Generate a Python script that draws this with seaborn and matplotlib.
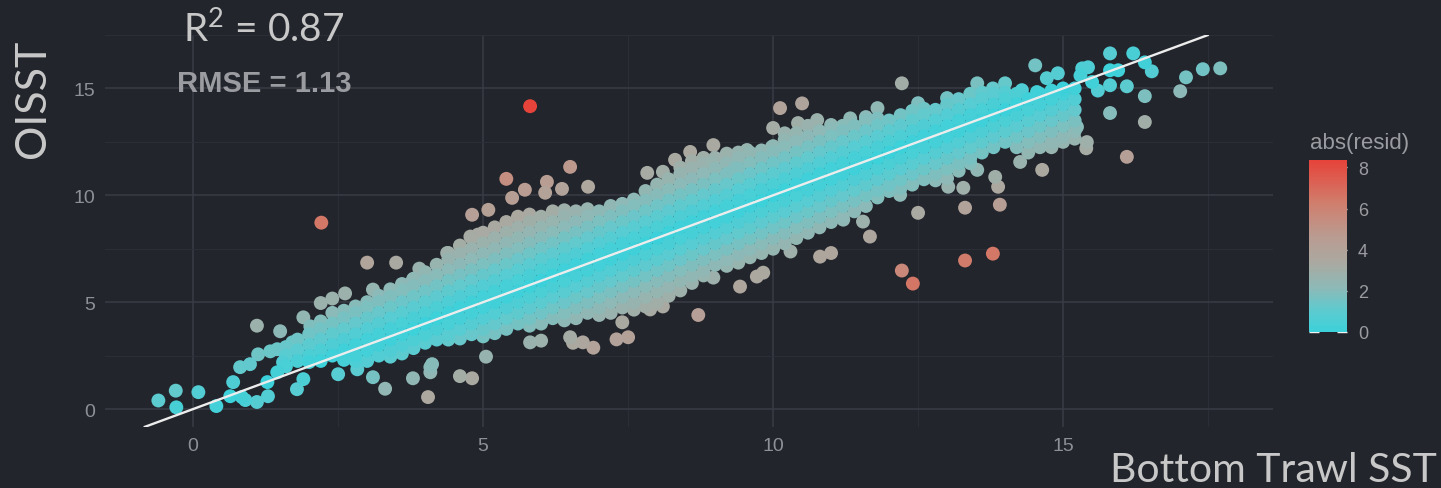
import pandas as pd
import matplotlib
matplotlib.use("Agg")
import matplotlib.pyplot as plt
import matplotlib.colorbar as mcolorbar
from matplotlib.colors import LinearSegmentedColormap, Normalize
import seaborn as sns

# ---------------------------------------------------------------------------
# Data: bottom trawl SST (x) against OISST (y), degrees C
# ---------------------------------------------------------------------------

# sparse observations around the edge of the cloud
edge_bt = [
    -0.60, -0.30, -0.29, 0.09, 0.40, 0.64, 0.69, 0.84, 0.90, 1.10,
    0.81, 0.98, 1.10, 1.12, 1.28, 1.33, 1.29, 1.45, 1.45, 1.50,
    1.55, 1.71, 1.79, 1.90, 1.90, 2.02, 2.20, 2.40, 2.62, 2.21,
    3.00, 3.50, 3.90, 2.50, 2.83, 3.10, 3.31, 3.79, 4.05, 4.09,
    4.09, 4.12, 3.10, 3.62, 3.79, 4.38, 4.60, 4.81, 5.05, 4.78,
    4.91, 4.81, 5.09, 5.50, 5.40, 5.72, 6.10, 6.07, 6.36, 6.50,
    6.81, 5.81, 5.81, 6.00, 6.50, 6.55, 6.72, 6.90, 7.30, 7.50,
    7.40, 7.88, 8.10, 8.71, 7.83, 8.10, 8.31, 8.57, 8.97, 8.95,
    9.34, 9.55, 9.98, 10.00, 10.12, 10.20, 10.50, 10.43, 10.76, 11.00,
    11.33, 11.60, 11.80, 12.22, 12.50, 12.41, 13.00, 13.52, 13.62, 13.79,
    14.00, 8.97, 9.43, 9.72, 9.83, 10.30, 10.81, 11.00, 11.21, 11.55,
    11.67, 12.19, 12.50, 13.02, 13.28, 13.31, 13.52, 13.83, 13.88, 13.91,
    12.22, 12.41, 13.31, 13.79, 14.26, 14.64, 14.83, 15.24, 15.41, 15.40,
    15.81, 16.21, 16.41, 16.53, 14.52, 14.91, 14.72, 15.33, 15.43, 15.81,
    15.95, 15.81, 16.10, 16.41, 15.81, 16.41, 16.10, 17.02, 17.12, 17.41,
    17.71, 14.29, 14.55, 15.50, 15.60, 15.30,
]
edge_oi = [
    0.40, 0.86, 0.08, 0.79, 0.14, 0.60, 1.26, 0.56, 0.42, 0.33,
    1.96, 2.10, 3.90, 2.56, 1.26, 2.70, 0.60, 2.80, 1.72, 3.64,
    2.19, 3.12, 0.93, 1.40, 4.29, 3.87, 4.96, 5.17, 5.41, 8.72,
    6.85, 6.85, 6.57, 1.63, 1.86, 1.49, 0.95, 1.44, 0.56, 1.96,
    1.72, 2.10, 5.59, 5.59, 6.06, 7.30, 1.54, 1.44, 2.45, 8.07,
    8.16, 9.09, 9.32, 9.88, 10.77, 10.26, 10.63, 10.12, 10.30, 11.33,
    10.40, 14.17, 3.12, 3.20, 3.36, 3.10, 3.12, 2.87, 3.26, 3.36,
    4.06, 4.66, 4.80, 4.40, 11.05, 11.10, 11.66, 12.03, 12.35, 11.50,
    11.28, 12.12, 12.26, 13.15, 14.08, 12.90, 14.30, 13.38, 13.52, 13.29,
    13.60, 13.66, 14.08, 15.24, 14.31, 13.85, 14.55, 15.24, 14.78, 15.00,
    15.24, 6.15, 5.73, 6.20, 6.38, 7.37, 7.13, 7.30, 8.86, 8.77,
    8.07, 10.02, 9.18, 10.40, 10.35, 9.42, 11.19, 10.86, 10.40, 9.56,
    6.48, 5.87, 6.95, 7.27, 11.56, 11.19, 12.45, 13.20, 12.49, 12.20,
    16.64, 16.64, 16.22, 15.80, 16.08, 15.71, 15.48, 15.94, 15.99, 15.85,
    15.85, 15.15, 15.10, 14.64, 13.85, 13.43, 11.80, 14.87, 15.52, 15.90,
    15.94, 14.92, 14.83, 15.30, 14.90, 15.60,
]

# dense body of the cloud: OISST readings grouped by trawl-temperature column
core_bt = [
    1.6, 1.8, 2.0, 2.2, 2.4, 2.6, 2.8, 3.0, 3.2, 3.4, 3.6, 3.8, 4.0, 4.2,
    4.4, 4.6, 4.8, 5.0, 5.2, 5.4, 5.6, 5.8, 6.0, 6.2, 6.4, 6.6, 6.8, 7.0,
    7.2, 7.4, 7.6, 7.8, 8.0, 8.2, 8.4, 8.6, 8.8, 9.0, 9.2, 9.4, 9.6, 9.8,
    10.0, 10.2, 10.4, 10.6, 10.8, 11.0, 11.2, 11.4, 11.6, 11.8, 12.0, 12.2,
    12.4, 12.6, 12.8, 13.0, 13.2, 13.4, 13.6, 13.8, 14.0, 14.2, 14.4, 14.6,
    14.8, 15.0, 15.2,
]
core_oi = [
    [2.0, 2.5, 2.9],
    [2.25, 2.75, 3.25],
    [2.2, 2.5, 3.0, 3.5],
    [2.25, 2.75, 3.25, 3.75, 4.1],
    [2.5, 3.0, 3.5, 4.0, 4.5],
    [2.3, 2.75, 3.25, 3.75, 4.25, 4.6],
    [2.25, 2.5, 3.0, 3.5, 4.0, 4.5, 4.8],
    [2.25, 2.75, 3.25, 3.75, 4.25, 4.75, 5.0],
    [2.5, 3.0, 3.5, 4.0, 4.5, 5.0, 5.3],
    [2.45, 2.75, 3.25, 3.75, 4.25, 4.75, 5.25, 5.6],
    [2.6, 3.0, 3.5, 4.0, 4.5, 5.0, 5.5, 5.85],
    [2.85, 3.25, 3.75, 4.25, 4.75, 5.25, 5.75, 6.1],
    [3.1, 3.5, 4.0, 4.5, 5.0, 5.5, 6.0, 6.4],
    [3.25, 3.75, 4.25, 4.75, 5.25, 5.75, 6.25, 6.75],
    [3.25, 3.5, 4.0, 4.5, 5.0, 5.5, 6.0, 6.5, 7.0, 7.3],
    [3.3, 3.75, 4.25, 4.75, 5.25, 5.75, 6.25, 6.75, 7.25, 7.65],
    [3.5, 4.0, 4.5, 5.0, 5.5, 6.0, 6.5, 7.0, 7.5, 8.0],
    [3.4, 3.75, 4.25, 4.75, 5.25, 5.75, 6.25, 6.75, 7.25, 7.75, 8.25],
    [3.55, 4.0, 4.5, 5.0, 5.5, 6.0, 6.5, 7.0, 7.5, 8.0, 8.5],
    [3.75, 4.25, 4.75, 5.25, 5.75, 6.25, 6.75, 7.25, 7.75, 8.25, 8.75],
    [4.0, 4.5, 5.0, 5.5, 6.0, 6.5, 7.0, 7.5, 8.0, 8.5, 9.0],
    [3.9, 4.25, 4.75, 5.25, 5.75, 6.25, 6.75, 7.25, 7.75, 8.25, 8.75, 9.1],
    [4.0, 4.5, 5.0, 5.5, 6.0, 6.5, 7.0, 7.5, 8.0, 8.5, 9.0],
    [4.25, 4.75, 5.25, 5.75, 6.25, 6.75, 7.25, 7.75, 8.25, 8.75, 9.25],
    [4.15, 4.5, 5.0, 5.5, 6.0, 6.5, 7.0, 7.5, 8.0, 8.5, 9.0, 9.3],
    [4.25, 4.75, 5.25, 5.75, 6.25, 6.75, 7.25, 7.75, 8.25, 8.75, 9.25],
    [4.5, 5.0, 5.5, 6.0, 6.5, 7.0, 7.5, 8.0, 8.5, 9.0, 9.35],
    [4.4, 4.75, 5.25, 5.75, 6.25, 6.75, 7.25, 7.75, 8.25, 8.75, 9.25],
    [4.5, 5.0, 5.5, 6.0, 6.5, 7.0, 7.5, 8.0, 8.5, 9.0, 9.5],
    [4.75, 5.25, 5.75, 6.25, 6.75, 7.25, 7.75, 8.25, 8.75, 9.25, 9.6],
    [4.65, 5.0, 5.5, 6.0, 6.5, 7.0, 7.5, 8.0, 8.5, 9.0, 9.5, 9.8],
    [4.8, 5.25, 5.75, 6.25, 6.75, 7.25, 7.75, 8.25, 8.75, 9.25, 9.75, 10.2],
    [5.0, 5.5, 6.0, 6.5, 7.0, 7.5, 8.0, 8.5, 9.0, 9.5, 10.0, 10.5],
    [5.3, 5.75, 6.25, 6.75, 7.25, 7.75, 8.25, 8.75, 9.25, 9.75, 10.25, 10.75],
    [5.55, 6.0, 6.5, 7.0, 7.5, 8.0, 8.5, 9.0, 9.5, 10.0, 10.5, 11.0, 11.3],
    [5.9, 6.25, 6.75, 7.25, 7.75, 8.25, 8.75, 9.25, 9.75, 10.25, 10.75, 11.25, 11.6],
    [6.25, 6.5, 7.0, 7.5, 8.0, 8.5, 9.0, 9.5, 10.0, 10.5, 11.0, 11.5, 11.75],
    [6.75, 7.25, 7.75, 8.25, 8.75, 9.25, 9.75, 10.25, 10.75, 11.25, 11.75],
    [6.7, 7.0, 7.5, 8.0, 8.5, 9.0, 9.5, 10.0, 10.5, 11.0, 11.5, 11.95],
    [6.85, 7.25, 7.75, 8.25, 8.75, 9.25, 9.75, 10.25, 10.75, 11.25, 11.75, 12.0],
    [7.1, 7.5, 8.0, 8.5, 9.0, 9.5, 10.0, 10.5, 11.0, 11.5, 12.0],
    [7.3, 7.75, 8.25, 8.75, 9.25, 9.75, 10.25, 10.75, 11.25, 11.75, 12.1],
    [7.5, 8.0, 8.5, 9.0, 9.5, 10.0, 10.5, 11.0, 11.5, 12.0, 12.3],
    [7.75, 8.25, 8.75, 9.25, 9.75, 10.25, 10.75, 11.25, 11.75, 12.25, 12.6],
    [8.0, 8.5, 9.0, 9.5, 10.0, 10.5, 11.0, 11.5, 12.0, 12.5, 12.9],
    [8.25, 8.75, 9.25, 9.75, 10.25, 10.75, 11.25, 11.75, 12.25, 12.75, 13.25],
    [8.5, 9.0, 9.5, 10.0, 10.5, 11.0, 11.5, 12.0, 12.5, 13.0],
    [8.75, 9.25, 9.75, 10.25, 10.75, 11.25, 11.75, 12.25, 12.75, 13.1],
    [9.0, 9.5, 10.0, 10.5, 11.0, 11.5, 12.0, 12.5, 13.0, 13.25],
    [9.25, 9.75, 10.25, 10.75, 11.25, 11.75, 12.25, 12.75, 13.25],
    [9.5, 10.0, 10.5, 11.0, 11.5, 12.0, 12.5, 13.0, 13.5],
    [9.9, 10.25, 10.75, 11.25, 11.75, 12.25, 12.75, 13.25, 13.6],
    [10.2, 10.5, 11.0, 11.5, 12.0, 12.5, 13.0, 13.5],
    [10.35, 10.75, 11.25, 11.75, 12.25, 12.75, 13.25, 13.75],
    [10.5, 11.0, 11.5, 12.0, 12.5, 13.0, 13.5, 13.95],
    [10.75, 11.25, 11.75, 12.25, 12.75, 13.25, 13.75, 14.05],
    [10.7, 11.0, 11.5, 12.0, 12.5, 13.0, 13.5, 14.0],
    [10.8, 11.25, 11.75, 12.25, 12.75, 13.25, 13.75, 14.25],
    [11.15, 11.5, 12.0, 12.5, 13.0, 13.5, 14.0, 14.5],
    [11.5, 11.75, 12.25, 12.75, 13.25, 13.75, 14.25, 14.75],
    [12.0, 12.5, 13.0, 13.5, 14.0, 14.5, 14.8],
    [12.25, 12.75, 13.25, 13.75, 14.25, 14.75],
    [12.5, 13.0, 13.5, 14.0, 14.5, 14.8],
    [12.25, 12.75, 13.25, 13.75, 14.25, 14.75],
    [12.0, 12.5, 13.0, 13.5, 14.0, 14.5],
    [12.25, 12.75, 13.25, 13.75, 14.25, 14.75],
    [12.25, 12.5, 13.0, 13.5, 14.0, 14.5, 14.9],
    [12.5, 12.75, 13.25, 13.75, 14.25, 14.75, 15.0],
    [12.65, 13.0, 13.5, 14.0, 14.5, 15.0],
]

r2_text = "0.87"
rmse_text = "1.13"
axis_ticks = [0, 5, 10, 15]
minor_ticks = [2.5, 7.5, 12.5, 17.5]
resid_ticks = [0, 2, 4, 6, 8]

# ---------------------------------------------------------------------------
# Assemble the table and residuals from the 1:1 line
# ---------------------------------------------------------------------------
bt = list(edge_bt)
oi = list(edge_oi)
for x, column in zip(core_bt, core_oi):
    bt.extend([x] * len(column))
    oi.extend(column)

df = pd.DataFrame({"bt": bt, "oi": oi})
df["abs_resid"] = (df["oi"] - df["bt"]).abs()
# large residuals first so the well-matched points sit on top
df = df.sort_values("abs_resid", ascending=False).reset_index(drop=True)
vmax = df["abs_resid"].max()

# ---------------------------------------------------------------------------
# Styling
# ---------------------------------------------------------------------------
BG = "#22252c"
GRID_MAJOR = "#393c44"
GRID_MINOR = "#2c2f37"
TICK_GREY = "#8d9096"
LABEL_GREY = "#c8c8c8"

sns.set_theme(style="dark")
plt.rcParams["font.family"] = ["Liberation Sans", "DejaVu Sans"]
plt.rcParams["mathtext.fontset"] = "custom"
plt.rcParams["mathtext.rm"] = "Lato"

resid_cmap = LinearSegmentedColormap.from_list(
    "resid",
    [(0.00, "#3cd1da"), (0.12, "#5ccbd0"), (0.25, "#8bbab8"),
     (0.40, "#aaa9a1"), (0.55, "#b99c92"), (0.75, "#d07e6d"),
     (1.00, "#e6433a")],
)

W, H = 1441, 489
fig = plt.figure(figsize=(W / 100, H / 100), dpi=100, facecolor=BG)
ax = fig.add_axes([105 / W, 1 - 428 / H, (1273 - 105) / W, (428 - 36) / H])
ax.set_facecolor(BG)

sns.scatterplot(
    data=df, x="bt", y="oi", hue="abs_resid",
    palette=resid_cmap, hue_norm=(0, vmax),
    s=100, linewidth=0, alpha=1.0, legend=False, ax=ax, zorder=3,
)

# 1:1 reference line
ax.axline((0, 0), slope=1, color="#ededed", lw=1.7, zorder=4)

ax.set_xlim(-1.52, 18.62)
ax.set_ylim(-0.84, 17.44)
ax.set_xticks(axis_ticks)
ax.set_yticks(axis_ticks)
ax.set_xticks(minor_ticks, minor=True)
ax.set_yticks(minor_ticks, minor=True)
ax.grid(which="major", color=GRID_MAJOR, lw=1.1)
ax.grid(which="minor", color=GRID_MINOR, lw=0.7)
ax.set_axisbelow(True)
for sp in ax.spines.values():
    sp.set_visible(False)
ax.tick_params(axis="both", which="both", length=0, pad=7,
               labelsize=14, labelcolor=TICK_GREY)
ax.set_xlabel("")
ax.set_ylabel("")

# statistics
fig.text(183 / W, 1 - 43 / H, r"R$^\mathregular{2}$ = " + r2_text,
         fontsize=28, color=LABEL_GREY, family="Lato",
         ha="left", va="baseline")
fig.text(177 / W, 1 - 92 / H, "RMSE = " + rmse_text,
         fontsize=21, fontweight="bold", color="#9a9ca1",
         ha="left", va="baseline")

# axis titles
fig.text(33 / W, 1 - 99 / H, "OISST", rotation=90, fontsize=31,
         color=LABEL_GREY, family="Lato", ha="center", va="center")
fig.text(1437 / W, 1 - 482 / H, "Bottom Trawl SST", fontsize=29.5,
         color=LABEL_GREY, family="Lato", ha="right", va="baseline")

# colour bar for abs(resid)
cax = fig.add_axes([1309 / W, 1 - 333 / H, 38 / W, 172 / H])
cb = mcolorbar.ColorbarBase(cax, cmap=resid_cmap, norm=Normalize(0, vmax),
                            orientation="vertical", ticks=resid_ticks)
cb.outline.set_visible(False)
cax.tick_params(axis="y", which="major", direction="in", length=7, width=1,
                color="#f2f2f2", left=True, right=True,
                labelsize=13, labelcolor="#9a9ca1", pad=8)
cax.set_yticklabels([str(t) for t in resid_ticks])
fig.text(1310 / W, 1 - 143 / H, "abs(resid)", fontsize=16,
         color="#9a9ca1", ha="left", va="center")

fig.savefig("out.png", dpi=100, facecolor=BG)
